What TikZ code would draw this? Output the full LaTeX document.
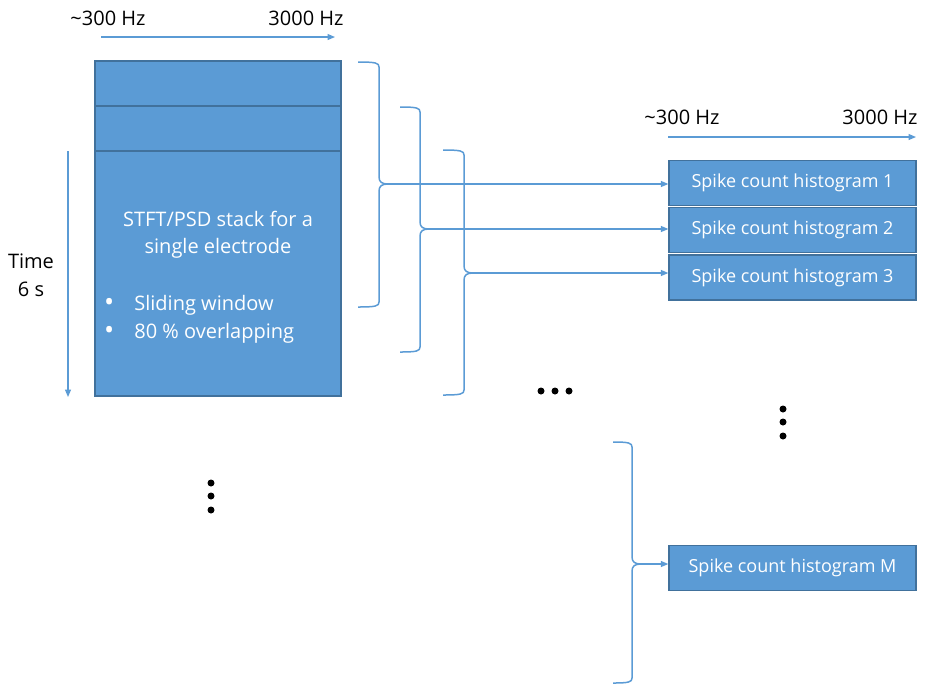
\documentclass[tikz,border=0pt]{standalone}
\usepackage{fontspec}
\setmainfont{Open Sans}
\usetikzlibrary{arrows.meta}
\definecolor{boxfill}{HTML}{5B9BD5}
\definecolor{boxline}{HTML}{41719C}
\definecolor{wirecol}{HTML}{5B9BD5}

% right curly brace: #1 left x, #2 spine x, #3 top y, #4 tip y, #5 bottom y, #6 tip name
\newcommand{\sidebrace}[6]{%
  \draw[brace] (#1,#3) .. controls (#2-3,#3) and (#2,#3+1) .. (#2,#3+5)
     -- (#2,#4-7) .. controls (#2,#4-2) and (#2+3,#4) .. (#2+9,#4)
     .. controls (#2+3,#4) and (#2,#4+2) .. (#2,#4+7)
     -- (#2,#5-5) .. controls (#2,#5-1) and (#2-3,#5) .. (#1,#5);
  \coordinate (#6) at (#2+9,#4);
}
\newcommand{\bigbullet}{\raisebox{-1pt}{\scalebox{1.35}{\textbullet}}}

\begin{document}
\begin{tikzpicture}[x=1pt,y=-1pt,
  font=\fontsize{20}{28}\selectfont,
  band/.style={draw=boxline, line width=1.3pt, fill=boxfill, inner sep=0pt},
  hist/.style={band, minimum width=247pt, minimum height=45pt, text=white,
    font=\fontsize{18}{22}\selectfont},
  wire/.style={draw=wirecol, line width=1.2pt},
  flow/.style={wire, -{Triangle[length=7.5pt,width=6pt]}},
  brace/.style={draw=wirecol, line width=1.5pt},
  dot/.style={circle, fill=black, inner sep=0pt, minimum size=7pt},
  lbl/.style={inner sep=0pt, text=black}
]
\useasboundingbox (0,0) rectangle (925,689);

% frequency axis over the stack
\node[lbl] (lo1) at (108,18) {\textasciitilde300 Hz};
\node[lbl] (hi1) at (306,18) {3000 Hz};
\coordinate (fa0) at (101,37);
\coordinate (fa1) at (335,37);
\draw[flow] (fa0) -- (fa1);

% STFT/PSD stack
\node[band, minimum width=246pt, minimum height=45pt] (s1) at (218,83.5) {};
\node[band, minimum width=246pt, minimum height=45pt] (s2) at (218,128.5) {};
\node[band, minimum width=246pt, minimum height=245pt] (stack) at (218,273.5) {};
\node[lbl, text=white, align=center, font=\fontsize{20}{27}\selectfont] (title) at (218,234.5)
  {STFT/PSD stack for a\\single electrode};
\node[lbl, text=white, anchor=west, font=\fontsize{20}{28}\selectfont] (bul) at (104,319)
  {\begin{tabular}{@{}l@{\hspace{20pt}}l@{}}\bigbullet & Sliding window\\ \bigbullet & 80 \% overlapping\end{tabular}};

% time axis
\coordinate (t0) at (68,151);
\coordinate (t1) at (68,397);
\draw[flow] (t0) -- (t1);
\node[lbl, align=center, font=\fontsize{20}{28}\selectfont] (time) at (31,275.5) {Time\\6 s};

% frequency axis over the histograms
\node[lbl] (lo2) at (682,117) {\textasciitilde300 Hz};
\node[lbl] (hi2) at (880,117) {3000 Hz};
\coordinate (fb0) at (668,137);
\coordinate (fb1) at (916,137);
\draw[flow] (fb0) -- (fb1);

% histograms
\node[hist] (h1) at (792.5,183) {Spike count histogram 1};
\node[hist] (h2) at (792.5,230) {Spike count histogram 2};
\node[hist] (h3) at (792.5,277.5) {Spike count histogram 3};
\node[hist] (hm) at (792.5,568) {Spike count histogram M};

% windows grouped by braces
\sidebrace{358}{379}{62}{184}{307}{b1}
\sidebrace{400}{420}{107}{229}{352}{b2}
\sidebrace{443}{464}{150}{273}{395}{b3}
\sidebrace{613}{632}{442}{564}{683}{bm}

\draw[flow] (b1) -- (b1 -| h1.west);
\draw[flow] (b2) -- (b2 -| h2.west);
\draw[flow] (b3) -- (b3 -| h3.west);
\draw[flow] (bm) -- (bm -| hm.west);

% ellipses
\node[dot] (d1) at (541,391) {};
\node[dot] (d2) at (555,391) {};
\node[dot] (d3) at (569,391) {};
\node[dot] (d4) at (783,409) {};
\node[dot] (d5) at (783,422) {};
\node[dot] (d6) at (783,436) {};
\node[dot] (d7) at (211,483) {};
\node[dot] (d8) at (211,496) {};
\node[dot] (d9) at (211,510) {};
\end{tikzpicture}
\end{document}
